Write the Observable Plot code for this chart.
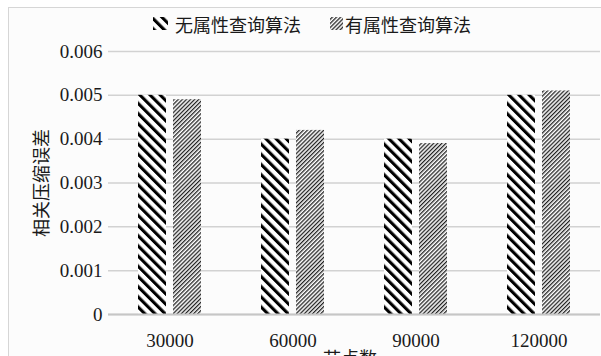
<!DOCTYPE html>
<html>
<head>
<meta charset="utf-8">
<script src="https://cdn.jsdelivr.net/npm/d3@7"></script>
<script src="https://cdn.jsdelivr.net/npm/@observablehq/plot@0.6"></script>
<style>
  html, body { margin: 0; padding: 0; background: #ffffff; }
  #wrap { position: relative; width: 601px; height: 356px; overflow: hidden; }
  #frame { position: absolute; left: 8px; top: 7px; width: 700px; height: 420px;
           border: 1px solid #d6d6d6; background: #fcfcfc; }
  #chart { position: absolute; left: 0; top: 0; }
  #chart svg text { font-family: "Liberation Serif", "Times New Roman", "DejaVu Serif", serif !important; }
  #chart svg text.cjk { font-family: "Noto Sans CJK SC", sans-serif !important; }
</style>
</head>
<body>
<div id="wrap">
  <div id="frame"></div>
  <div id="chart"></div>
</div>
<script>
// Node counts on the x axis
const nodes = ["30000", "60000", "90000", "120000"];
// The two algorithms compared
const seriesNames = ["无属性查询算法", "有属性查询算法"];
// Relative compression error for each algorithm
const noAttrValues = [0.005, 0.004, 0.004, 0.005];
const withAttrValues = [0.0049, 0.0042, 0.0039, 0.0051];
// Y axis ticks and their labels
const yTicks = [0, 0.001, 0.002, 0.003, 0.004, 0.005, 0.006];
const yTickLabels = ["0", "0.001", "0.002", "0.003", "0.004", "0.005", "0.006"];
const yTitle = "相关压缩误差";
const xTitle = "节点数";

const fills = ["url(#hatch-bold)", "url(#hatch-fine)"];
const rows = nodes.flatMap((node, i) => [
  {node, series: seriesNames[0], value: noAttrValues[i]},
  {node, series: seriesNames[1], value: withAttrValues[i]}
]);

const plot = Plot.plot({
  width: 601,
  height: 356,
  marginTop: 51,
  marginBottom: 42,
  marginLeft: 106,
  marginRight: 0,
  style: {background: "transparent", fontSize: "19px", color: "#1a1a1a"},
  fx: {domain: nodes, padding: 0, label: null},
  x: {domain: seriesNames, paddingInner: 0.2, paddingOuter: 0.84, axis: null},
  y: {domain: [0, 0.006], label: null},
  marks: [
    Plot.gridY(yTicks, {stroke: "#d2d2d2", strokeOpacity: 1, strokeWidth: 1.5}),
    Plot.axisY(yTicks, {tickSize: 0, tickPadding: 6, label: null,
      tickFormat: d => yTickLabels[yTicks.indexOf(d)]}),
    ...seriesNames.map((s, k) =>
      Plot.barY(rows.filter(r => r.series === s), {fx: "node", x: "series", y: "value", fill: fills[k]})
    ),
    Plot.ruleY([0], {stroke: "#c6c6c6", strokeWidth: 2}),
    Plot.axisFx({anchor: "bottom", tickSize: 0, tickPadding: 19, label: null})
  ]
});

const svg = d3.select(plot);
const defs = svg.insert("defs", ":first-child");

// Thick black stripes running top-left to bottom-right
const p1 = defs.append("pattern")
  .attr("id", "hatch-bold").attr("patternUnits", "userSpaceOnUse")
  .attr("width", 7.2).attr("height", 7.2)
  .attr("patternTransform", "rotate(-45)");
p1.append("rect").attr("width", 7.2).attr("height", 7.2).attr("fill", "#ffffff");
p1.append("rect").attr("width", 3.1).attr("height", 7.2).attr("fill", "#000000");

// Fine dark stripes running bottom-left to top-right
const p2 = defs.append("pattern")
  .attr("id", "hatch-fine").attr("patternUnits", "userSpaceOnUse")
  .attr("width", 2.9).attr("height", 2.9)
  .attr("patternTransform", "rotate(45)");
p2.append("rect").attr("width", 2.9).attr("height", 2.9).attr("fill", "#ffffff");
p2.append("rect").attr("width", 1.3).attr("height", 2.9).attr("fill", "#222222");

// Axis titles
svg.append("text").attr("class", "cjk")
  .attr("transform", "translate(40,183) rotate(-90)")
  .attr("text-anchor", "middle").attr("dominant-baseline", "central")
  .attr("font-size", 18).attr("fill", "#1a1a1a")
  .text(yTitle);

svg.append("text").attr("class", "cjk")
  .attr("x", 350).attr("y", 357)
  .attr("text-anchor", "middle").attr("dominant-baseline", "central")
  .attr("font-size", 18).attr("fill", "#1a1a1a")
  .text(xTitle);

// Legend
const legend = svg.append("g");
const legendItems = [
  {x: 153, w: 15, textX: 175},
  {x: 330, w: 13, textX: 345}
];
legendItems.forEach((item, k) => {
  legend.append("rect").attr("x", item.x).attr("y", 17).attr("width", item.w).attr("height", 13)
    .attr("fill", fills[k]);
  legend.append("text").attr("class", "cjk").attr("x", item.textX).attr("y", 24)
    .attr("text-anchor", "start").attr("dominant-baseline", "central")
    .attr("font-size", 18).attr("fill", "#1a1a1a")
    .text(seriesNames[k]);
});

document.getElementById("chart").appendChild(plot);
</script>
</body>
</html>
